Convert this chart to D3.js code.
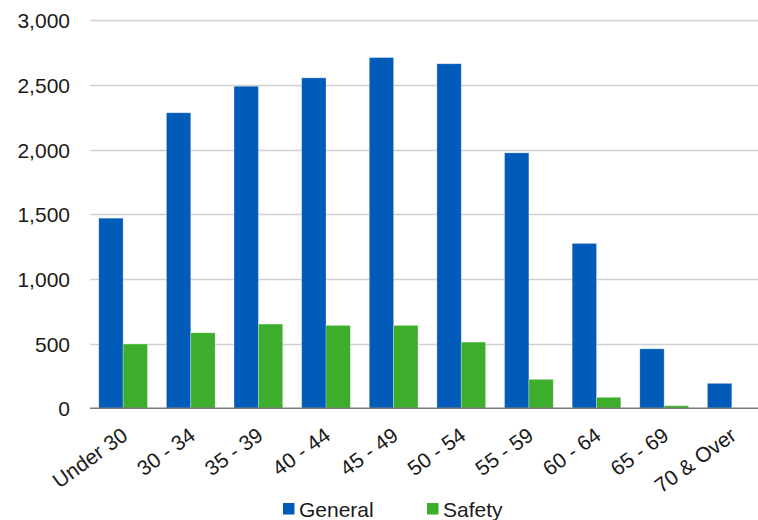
<!DOCTYPE html>
<html>
<head>
<meta charset="utf-8">
<script src="https://cdn.jsdelivr.net/npm/d3@7"></script>
<style>
  html, body { margin: 0; padding: 0; background: #fff; }
  svg { display: block; font-family: Arial, "Liberation Sans", sans-serif; }
</style>
</head>
<body>
<svg id="chart" width="758" height="520"></svg>
<script>
// Active members by age group, General vs Safety
const ageGroups = ["Under 30", "30 - 34", "35 - 39", "40 - 44", "45 - 49",
                   "50 - 54", "55 - 59", "60 - 64", "65 - 69", "70 & Over"];
const generalMembers = [1470, 2285, 2490, 2555, 2712, 2664, 1975, 1275, 460, 193];
const safetyMembers  = [497, 584, 651, 641, 641, 512, 224, 85, 20, 0];
const seriesNames = ["General", "Safety"];
const seriesColors = ["#005bb9", "#3dae2b"];
const yTicks = [0, 500, 1000, 1500, 2000, 2500, 3000];

const svg = d3.select("#chart");
const W = 758, H = 520;
const FONT = 21;

const x = d3.scaleBand()
  .domain(ageGroups)
  .range([89.3, 765.6])
  .paddingInner(0)
  .paddingOuter(0);

const groupWidth = x.bandwidth() * 0.72;
const xInner = d3.scaleBand()
  .domain(seriesNames)
  .range([0, groupWidth]);

const y = d3.scaleLinear()
  .domain([0, 3000])
  .range([408.3, 20.3]);

// Title (runs off the top edge)
svg.append("text")
  .attr("x", 623)
  .attr("y", -4.5)
  .attr("text-anchor", "end")
  .attr("font-size", 20)
  .attr("font-weight", "bold")
  .attr("fill", "#3a4fae")
  .text("Active Members in Each Age Group");

// Horizontal gridlines
svg.append("g")
  .selectAll("line")
  .data(yTicks.filter(d => d > 0))
  .join("line")
  .attr("x1", 90)
  .attr("x2", W)
  .attr("y1", d => Math.round(y(d)) + 0.5)
  .attr("y2", d => Math.round(y(d)) + 0.5)
  .attr("stroke", "#d0d0d0")
  .attr("stroke-width", 1.3);

// Y axis labels
const yAxis = d3.axisLeft(y)
  .tickValues(yTicks)
  .tickFormat(d3.format(","))
  .tickSize(0)
  .tickPadding(0);
const yG = svg.append("g")
  .attr("transform", "translate(70,0)")
  .call(yAxis);
yG.select(".domain").remove();
yG.selectAll("text")
  .attr("font-size", FONT)
  .attr("fill", "#1a1a1a")
  .attr("font-family", "Arial, 'Liberation Sans', sans-serif")
  .attr("dy", "0.36em");

// Bars
const seriesData = [generalMembers, safetyMembers];
const groups = svg.append("g")
  .selectAll("g")
  .data(ageGroups)
  .join("g")
  .attr("transform", d => `translate(${x(d) + (x.bandwidth() - groupWidth) / 2},0)`);

groups.selectAll("rect")
  .data((d, i) => seriesNames.map((s, k) => ({ series: s, value: seriesData[k][i], color: seriesColors[k] })))
  .join("rect")
  .filter(d => d.value > 0)
  .attr("x", d => xInner(d.series))
  .attr("width", xInner.bandwidth())
  .attr("y", d => y(d.value))
  .attr("height", d => y(0) - y(d.value))
  .attr("fill", d => d.color)
  .attr("stroke", "rgba(255,255,255,0.35)")
  .attr("stroke-width", 0.8);

// Baseline
svg.append("line")
  .attr("x1", 90)
  .attr("x2", W)
  .attr("y1", y(0))
  .attr("y2", y(0))
  .attr("stroke", "#7a7a7a")
  .attr("stroke-width", 1.5);

// X axis labels, rotated
const xAxis = d3.axisBottom(x).tickSize(0).tickPadding(0);
const xG = svg.append("g")
  .attr("transform", `translate(0,${y(0)})`)
  .call(xAxis);
xG.select(".domain").remove();
xG.selectAll("text")
  .attr("font-size", FONT)
  .attr("fill", "#1a1a1a")
  .attr("font-family", "Arial, 'Liberation Sans', sans-serif")
  .attr("text-anchor", "end")
  .attr("dy", 0)
  .attr("y", 0)
  .attr("transform", "translate(6,30) rotate(-36)");

// Legend
const legendItems = [
  { name: seriesNames[0], color: seriesColors[0], x: 283 },
  { name: seriesNames[1], color: seriesColors[1], x: 427 }
];
const li = svg.append("g")
  .selectAll("g")
  .data(legendItems)
  .join("g")
  .attr("transform", d => `translate(${d.x},503)`);
li.append("rect")
  .attr("width", 11.5)
  .attr("height", 11.5)
  .attr("fill", d => d.color);
li.append("text")
  .attr("x", 16)
  .attr("y", 13.5)
  .attr("font-size", FONT)
  .attr("fill", "#1a1a1a")
  .text(d => d.name);
</script>
</body>
</html>
